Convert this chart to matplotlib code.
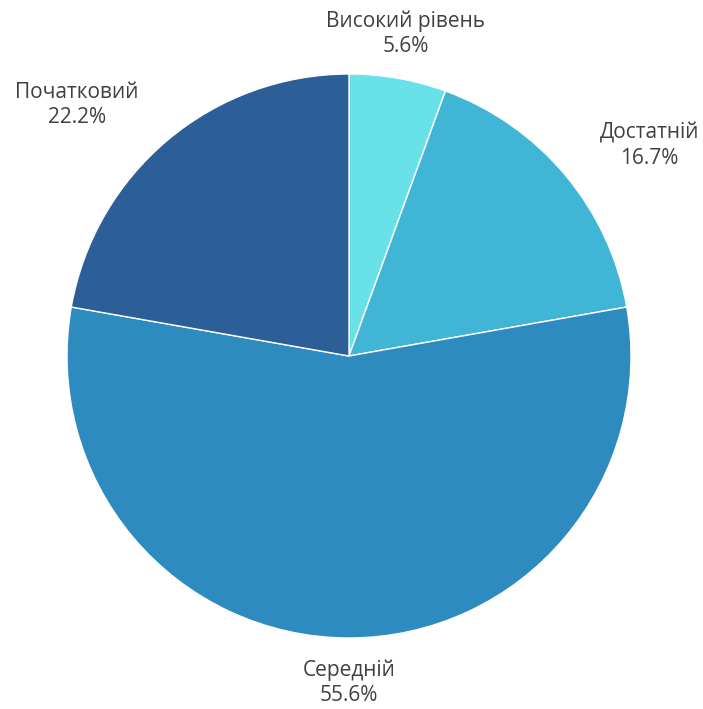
import numpy as np
import matplotlib.pyplot as plt

# Level of achievement shares (counts out of 18)
levels = ['Високий рівень', 'Достатній', 'Середній', 'Початковий']
counts = [1, 3, 10, 4]
colors = ['#68e1e8', '#40b5d5', '#2e8bc0', '#2c5e98']

fig = plt.figure(figsize=(7.03, 7.09), dpi=100)
ax = fig.add_axes([0, 0, 1, 1])

wedges, _ = ax.pie(counts, colors=colors, startangle=90, counterclock=False,
                   radius=1.0, wedgeprops=dict(edgecolor='white', linewidth=1))

ax.set_xlim(-1.2376, 1.2553)
ax.set_ylim(-1.2518, 1.2624)
ax.set_aspect('auto')
ax.axis('off')

total = sum(counts)
for w, name, c in zip(wedges, levels, counts):
    theta = np.radians((w.theta1 + w.theta2) / 2)
    x = 1.16 * np.cos(theta)
    y = 1.16 * np.sin(theta)
    # side labels hang off the pie edge, top/bottom ones are centred
    if x > 0.3:
        ha = 'left'
    elif x < -0.3:
        ha = 'right'
    else:
        ha = 'center'
    ax.text(x, y, f'{name}\n{c / total * 100:.1f}%', ha=ha, va='center',
            multialignment='center', fontsize=15, family='Open Sans',
            color='#404040', linespacing=1.25)

fig.savefig('out.png', dpi=100)
